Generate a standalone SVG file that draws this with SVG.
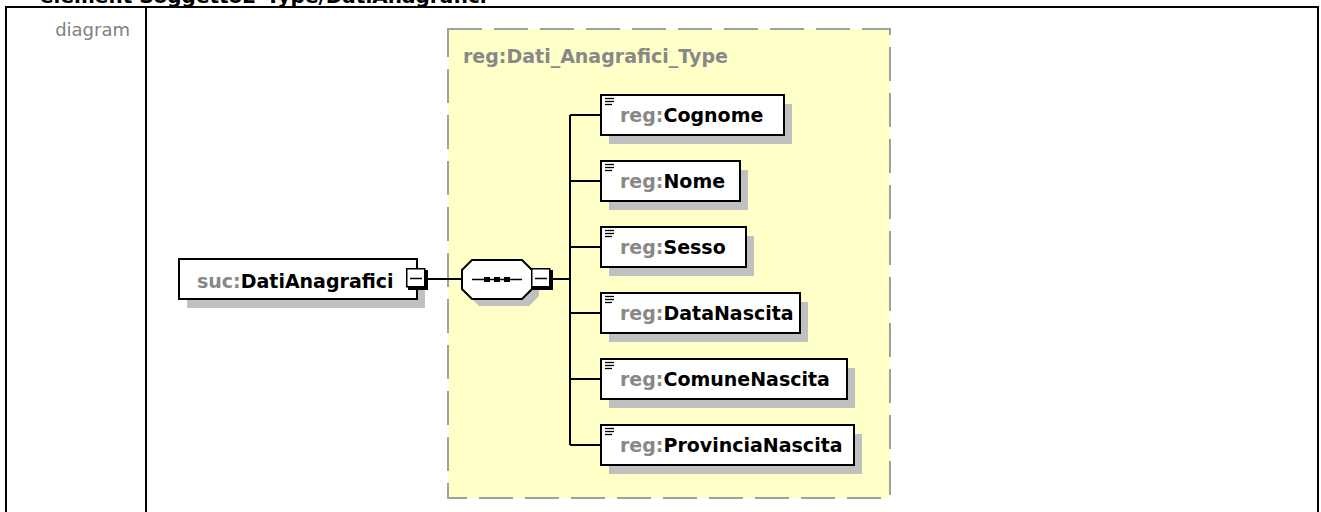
<svg xmlns="http://www.w3.org/2000/svg" width="1321" height="512" viewBox="0 0 1321 512">
<style>
.tbl{fill:none;stroke:#000;stroke-width:2}
.lbl{font-family:"DejaVu Sans",Verdana,sans-serif;font-weight:bold;font-size:19px}
.pfx{fill:#888}
.nm{fill:#000}
.box{fill:#fff;stroke:#000;stroke-width:2}
.shd{fill:#c0c0c0}
.ln{stroke:#000;stroke-width:2;fill:none}
.icon{stroke:#000;stroke-width:1.3}
</style>
<defs>
<g id="minus">
<rect x="2" y="2" width="20" height="20" fill="#000"/>
<rect x="0.75" y="0.75" width="18" height="18" fill="#fff" stroke="#000" stroke-width="1.5"/>
<line x1="4" y1="10.5" x2="16" y2="10.5" stroke="#000" stroke-width="1.5"/>
</g>
<g id="ico">
<line x1="0" y1="0.5" x2="9" y2="0.5"/>
<line x1="0" y1="3.5" x2="9" y2="3.5"/>
<line x1="0" y1="6.5" x2="7" y2="6.5"/>
</g>
</defs>
<rect width="1321" height="512" fill="#fff"/>
<text x="40" y="2.5" font-family="'DejaVu Sans',Verdana,sans-serif" font-weight="bold" font-size="20" fill="#000">element Soggetto2_Type/DatiAnagrafici</text>
<g id="table">
<path class="tbl" d="M6,520 V7 H1318 V520 M146,7 V520"/>
<text x="130" y="36" text-anchor="end" font-family="'DejaVu Sans',Verdana,sans-serif" font-size="18" fill="#808080">diagram</text>
</g>
<g id="type-container">
<rect x="448" y="29" width="442" height="469" fill="#ffffc8" stroke="#a0a0a0" stroke-width="2" stroke-dasharray="34 12"/>
<text class="lbl" x="463" y="63" fill="#888">reg:Dati_Anagrafici_Type</text>
</g>
<g id="connectors">
<path class="ln" d="M428,279 H462"/>
<path class="ln" d="M553,279 H570"/>
<path class="ln" d="M570,115 V445"/>
<path class="ln" d="M570,115 H601 M570,181 H601 M570,247 H601 M570,313 H601 M570,379 H601 M570,445 H601"/>
</g>
<g id="DatiAnagrafici">
<rect class="shd" x="187" y="268" width="238" height="40"/>
<rect class="box" x="179" y="259" width="238" height="40"/>
<text class="lbl" x="197" y="288"><tspan class="pfx">suc:</tspan><tspan class="nm">DatiAnagrafici</tspan></text>
<use href="#minus" x="406" y="268"/>
</g>
<g id="sequence">
<polygon points="479,267 529,267 539,277 539,296 529,306 479,306 469,296 469,277" fill="#c0c0c0"/>
<polygon points="472,260 522,260 532,270 532,289 522,299 472,299 462,289 462,270" fill="#fff" stroke="#000" stroke-width="2"/>
<line x1="472" y1="279.5" x2="522" y2="279.5" stroke="#000" stroke-width="1.5"/>
<rect x="484" y="277" width="6" height="5" fill="#000"/>
<rect x="494" y="277" width="6" height="5" fill="#000"/>
<rect x="504" y="277" width="6" height="5" fill="#000"/>
<use href="#minus" x="531" y="268"/>
</g>
<g id="Cognome">
<rect class="shd" x="609" y="104" width="183" height="40"/>
<rect class="box" x="601" y="95" width="183" height="40"/>
<use href="#ico" class="icon" x="605" y="98"/>
<text class="lbl" x="620" y="122"><tspan class="pfx">reg:</tspan><tspan class="nm">Cognome</tspan></text>
</g>
<g id="Nome">
<rect class="shd" x="609" y="170" width="139" height="40"/>
<rect class="box" x="601" y="161" width="139" height="40"/>
<use href="#ico" class="icon" x="605" y="164"/>
<text class="lbl" x="620" y="188"><tspan class="pfx">reg:</tspan><tspan class="nm">Nome</tspan></text>
</g>
<g id="Sesso">
<rect class="shd" x="609" y="236" width="145" height="40"/>
<rect class="box" x="601" y="227" width="145" height="40"/>
<use href="#ico" class="icon" x="605" y="230"/>
<text class="lbl" x="620" y="254"><tspan class="pfx">reg:</tspan><tspan class="nm">Sesso</tspan></text>
</g>
<g id="DataNascita">
<rect class="shd" x="609" y="302" width="199" height="40"/>
<rect class="box" x="601" y="293" width="199" height="40"/>
<use href="#ico" class="icon" x="605" y="296"/>
<text class="lbl" x="620" y="320"><tspan class="pfx">reg:</tspan><tspan class="nm">DataNascita</tspan></text>
</g>
<g id="ComuneNascita">
<rect class="shd" x="609" y="368" width="246" height="40"/>
<rect class="box" x="601" y="359" width="246" height="40"/>
<use href="#ico" class="icon" x="605" y="362"/>
<text class="lbl" x="620" y="386"><tspan class="pfx">reg:</tspan><tspan class="nm">ComuneNascita</tspan></text>
</g>
<g id="ProvinciaNascita">
<rect class="shd" x="609" y="434" width="253" height="40"/>
<rect class="box" x="601" y="425" width="253" height="40"/>
<use href="#ico" class="icon" x="605" y="428"/>
<text class="lbl" x="620" y="452"><tspan class="pfx">reg:</tspan><tspan class="nm">ProvinciaNascita</tspan></text>
</g>
</svg>
